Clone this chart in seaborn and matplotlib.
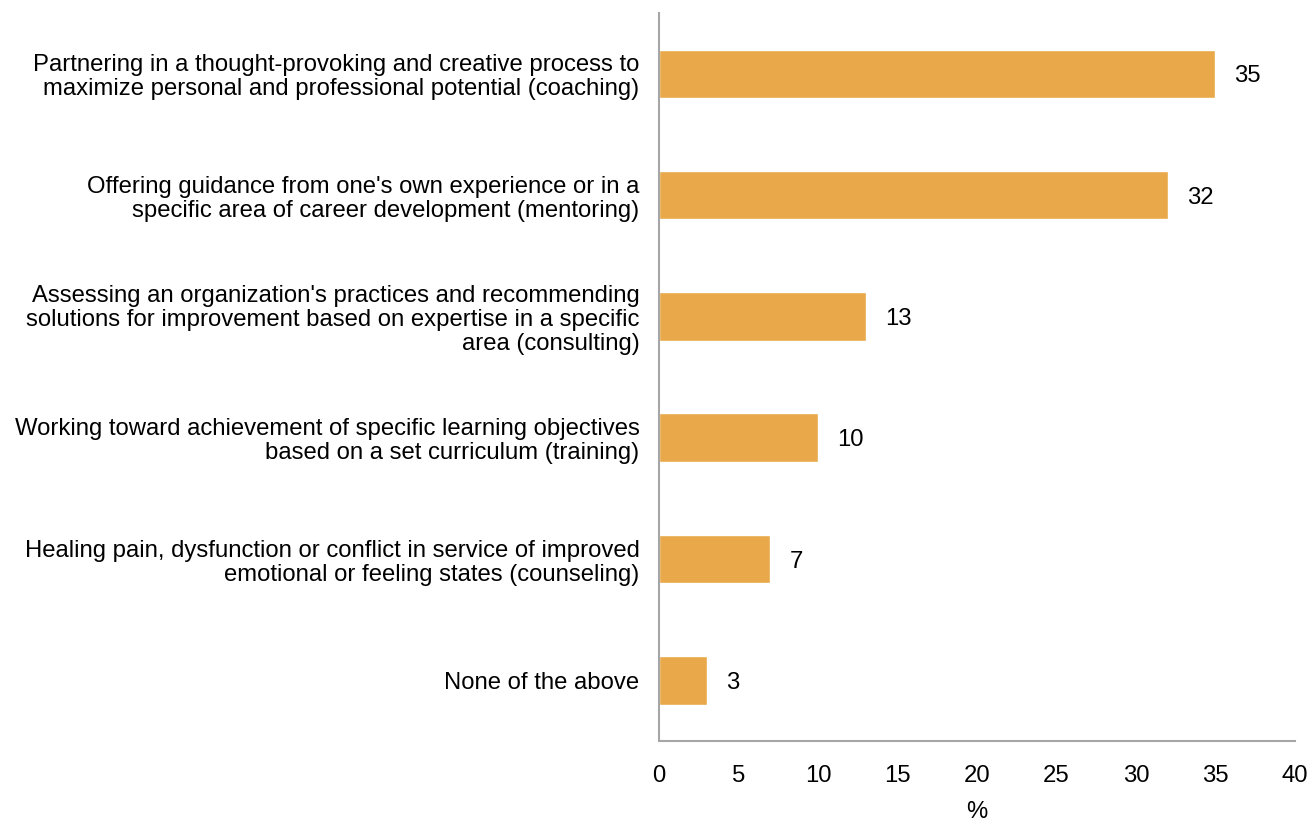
import matplotlib
matplotlib.use("Agg")
import matplotlib.pyplot as plt
import seaborn as sns
import pandas as pd

categories = [
    "Partnering in a thought-provoking and creative process to\nmaximize personal and professional potential (coaching)",
    "Offering guidance from one's own experience or in a\nspecific area of career development (mentoring)",
    "Assessing an organization's practices and recommending\nsolutions for improvement based on expertise in a specific\narea (consulting)",
    "Working toward achievement of specific learning objectives\nbased on a set curriculum (training)",
    "Healing pain, dysfunction or conflict in service of improved\nemotional or feeling states (counseling)",
    "None of the above",
]
values = [35, 32, 13, 10, 7, 3]
x_ticks = [0, 5, 10, 15, 20, 25, 30, 35, 40]

df = pd.DataFrame({"category": categories, "value": values})

sns.set_theme(style="white")
plt.rcParams["font.family"] = ["Liberation Sans", "DejaVu Sans"]
plt.rcParams["text.color"] = "black"
plt.rcParams["xtick.color"] = "black"
plt.rcParams["ytick.color"] = "black"
plt.rcParams["axes.labelcolor"] = "black"

FS = 17.2

fig = plt.figure(figsize=(13.1, 8.21), dpi=100)
ax = fig.add_axes([0.503, 0.0974, 0.4855, 0.8866])

bar_color = "#E9A94A"
sns.barplot(data=df, x="value", y="category", orient="h", color=bar_color,
            width=0.4, saturation=1, ax=ax)

for i, v in enumerate(values):
    ax.text(v + 1.2, i, f"{v}", va="center_baseline", ha="left", fontsize=FS,
            color="black")

ax.set_xlim(0, 40)
ax.set_ylim(5.5, -0.5)
ax.set_xticks(x_ticks)
ax.set_xticklabels([str(t) for t in x_ticks], fontsize=FS)
ax.set_yticks(range(len(categories)))
ax.set_yticklabels(categories, fontsize=FS, ha="right", multialignment="right",
                   linespacing=1.12)
ax.tick_params(axis="y", length=0, pad=14)
ax.tick_params(axis="x", length=0, pad=17)
ax.set_ylabel("")
ax.set_xlabel("%", fontsize=FS, labelpad=10)

for side in ["top", "right"]:
    ax.spines[side].set_visible(False)
for side in ["left", "bottom"]:
    ax.spines[side].set_color("#A6A6A6")
    ax.spines[side].set_linewidth(1.5)

fig.savefig("out.png", dpi=100)
